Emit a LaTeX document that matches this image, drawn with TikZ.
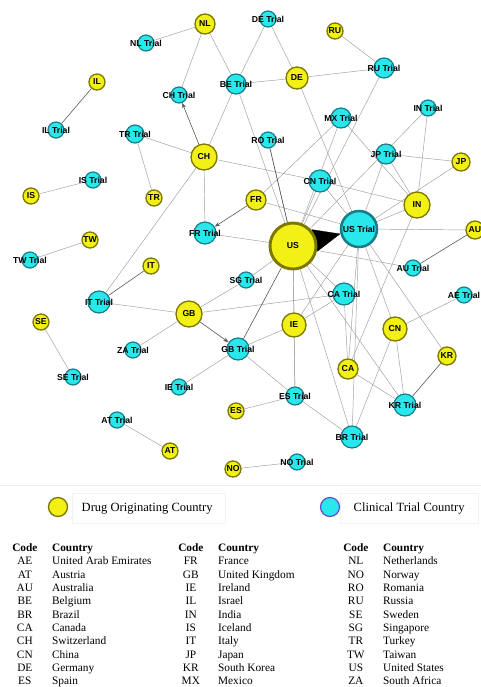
\documentclass[tikz,border=0pt]{standalone}
\usepackage{fontspec}
\setmainfont{Liberation Serif}
\newfontfamily\labelfont{Liberation Sans}
\usetikzlibrary{arrows.meta,backgrounds}
\definecolor{origfill}{RGB}{242,240,20}
\definecolor{origline}{RGB}{125,120,0}
\definecolor{trialfill}{RGB}{40,232,235}
\definecolor{trialline}{RGB}{25,125,135}
\definecolor{legline}{RGB}{95,80,200}
\tikzset{
  orig/.style={circle, draw=origline, fill=origfill, line width=1pt, inner sep=0pt, minimum size=1.5pt*#1},
  trial/.style={circle, draw=trialline, fill=trialfill, line width=0.9pt, inner sep=0pt, minimum size=1.5pt*#1},
  every label/.style={font=\labelfont\bfseries\fontsize{6.5}{6.5}\selectfont, inner sep=0pt},
  edge/.style={gray!75, line width=0.35pt},
  darkedge/.style={black!65, line width=0.45pt},
}
\begin{document}
\begin{tikzpicture}[x=0.75pt, y=-0.75pt, >={Stealth[length=4pt,width=3pt]}]
\useasboundingbox (0,0) rectangle (481,687);
% drug originating countries
\node[orig=10, label=center:NL] (NL) at (205,24) {};
\node[orig=8, label=center:IL] (IL) at (97,82) {};
\node[orig=8, label=center:RU] (RU) at (335,31) {};
\node[orig=11, label=center:DE] (DE) at (297,78) {};
\node[orig=13, label=center:CH] (CH) at (204,157) {};
\node[orig=9, label=center:JP] (JP) at (461,162) {};
\node[orig=13, label=center:IN] (IN) at (417,205) {};
\node[orig=8, label=center:IS] (IS) at (31,196) {};
\node[orig=8, label=center:TR] (TR) at (154,198) {};
\node[orig=10, label=center:FR] (FR) at (256,200) {};
\node[orig=23, line width=2.2pt, label=center:US] (US) at (293,246) {};
\node[orig=9, label=center:AU] (AU) at (475,230) {};
\node[orig=8, label=center:TW] (TW) at (90,240) {};
\node[orig=8, label=center:IT] (IT) at (151,266) {};
\node[orig=13, label=center:GB] (GB) at (189,314) {};
\node[orig=12, label=center:IE] (IE) at (294,325) {};
\node[orig=12, label=center:CN] (CN) at (395,329) {};
\node[orig=8, label=center:SE] (SE) at (41,322) {};
\node[orig=9, label=center:KR] (KR) at (447,356) {};
\node[orig=10, label=center:CA] (CA) at (348,369) {};
\node[orig=8, label=center:ES] (ES) at (236,411) {};
\node[orig=8, label=center:AT] (AT) at (170,451) {};
\node[orig=8, label=center:NO] (NO) at (233,469) {};
% clinical trial countries
\node[trial=8, label=center:{NL Trial}] (NLt) at (146,43) {};
\node[trial=8, label=center:{DE Trial}] (DEt) at (268,19) {};
\node[trial=10, label=center:{BE Trial}] (BEt) at (236,84) {};
\node[trial=8, label=center:{CH Trial}] (CHt) at (179,95) {};
\node[trial=10, label=center:{RU Trial}] (RUt) at (384,68) {};
\node[trial=8, label=center:{IL Trial}] (ILt) at (56,130) {};
\node[trial=8, label=center:{RO Trial}] (ROt) at (268,140) {};
\node[trial=10, label=center:{MX Trial}] (MXt) at (341,118) {};
\node[trial=8, label=center:{IN Trial}] (INt) at (428,108) {};
\node[trial=10, label=center:{JP Trial}] (JPt) at (386,154) {};
\node[trial=9, label=center:{TR Trial}] (TRt) at (135,134) {};
\node[trial=8, label=center:{IS Trial}] (ISt) at (93,180) {};
\node[trial=11, label=center:{CN Trial}] (CNt) at (320,181) {};
\node[trial=18, line width=1.9pt, label=center:{US Trial}] (USt) at (359,229) {};
\node[trial=11, label=center:{FR Trial}] (FRt) at (205,233) {};
\node[trial=8, label=center:{SG Trial}] (SGt) at (246,280) {};
\node[trial=8, label=center:{TW Trial}] (TWt) at (30,260) {};
\node[trial=8, label=center:{AU Trial}] (AUt) at (413,268) {};
\node[trial=11, label=center:{CA Trial}] (CAt) at (344,294) {};
\node[trial=8, label=center:{AE Trial}] (AEt) at (464,295) {};
\node[trial=11, label=center:{IT Trial}] (ITt) at (99,302) {};
\node[trial=8, label=center:{ZA Trial}] (ZAt) at (133,350) {};
\node[trial=11, label=center:{GB Trial}] (GBt) at (238,349) {};
\node[trial=8, label=center:{SE Trial}] (SEt) at (73,377) {};
\node[trial=8, label=center:{IE Trial}] (IEt) at (179,387) {};
\node[trial=9, label=center:{ES Trial}] (ESt) at (295,396) {};
\node[trial=11, label=center:{KR Trial}] (KRt) at (405,405) {};
\node[trial=11, label=center:{BR Trial}] (BRt) at (352,437) {};
\node[trial=8, label=center:{AT Trial}] (ATt) at (117,420) {};
\node[trial=8, label=center:{NO Trial}] (NOt) at (297,462) {};
% links
\begin{scope}[on background layer]
\foreach \a/\b in {NL/NLt, NL/CHt, NL/BEt, DEt/BEt, DEt/DE, DE/BEt, DE/RUt, DE/USt,
  RU/RUt, RUt/US, BEt/CH, BEt/US, TRt/CH, TRt/TR, CH/CNt, CH/ITt, CH/FRt,
  IS/ISt, TW/TWt, SE/SEt, AT/ATt, NO/NOt, ES/ESt, ROt/US, MXt/FR, MXt/US, MXt/IN,
  INt/IN, INt/US, JPt/JP, JPt/IN, JP/USt, JPt/USt, CNt/IN, CNt/US, CNt/USt,
  FR/USt, FRt/US, US/SGt, GB/SGt, GB/CAt, GB/ITt, GB/ZAt, IE/GBt, GBt/IEt, GBt/ESt,
  US/IE, US/ESt, IE/ESt, IE/CAt, USt/IE, US/CAt, CAt/CA, US/AUt, AU/USt, USt/IN,
  USt/CA, USt/CN, USt/KR, USt/BRt, US/BRt, US/KRt, CA/KRt, CN/KRt, CN/BRt, CN/AEt,
  ESt/BRt, IN/CA}
  \draw[edge] (\a) -- (\b);
\foreach \a/\b in {IL/ILt, IT/ITt, US/GBt, AU/AUt, KR/KRt, US/ROt}
  \draw[darkedge] (\a) -- (\b);
\foreach \a/\b in {CH/CHt, GB/GBt, FR/FRt}
  \draw[darkedge,->] (\a) -- (\b);
\draw[line width=0.2pt, -{Triangle[length=20pt,width=17pt]}] (US) -- (USt);
\end{scope}
% legend
\draw[gray!15] (0,485) -- (481,485);
\draw[gray!10] (72,493) rectangle (225,523);
\draw[gray!10] (340,493) rectangle (478,523);
\node[orig=9.5] (legorig) at (58,507) {};
\node[anchor=base west, font=\fontsize{9.4}{11}\selectfont] (legorigtxt) at (77,511) {Drug Originating Country};
\node[trial=9.5, draw=legline] (legtrial) at (330,507) {};
\node[anchor=base west, font=\fontsize{9.4}{11}\selectfont] (legtrialtxt) at (349,511) {Clinical Trial Country};
% code table
\tikzset{codetab/.style={anchor=north west, inner sep=0pt, font=\fontsize{8.5}{10}\selectfont}}
\node[codetab] (tabA) at (12,542) {\begin{tabular}{@{}c@{\hspace{11pt}}l@{}}
\textbf{Code} & \textbf{Country}\\
AE & United Arab Emirates\\ AT & Austria\\ AU & Australia\\ BE & Belgium\\ BR & Brazil\\
CA & Canada\\ CH & Switzerland\\ CN & China\\ DE & Germany\\ ES & Spain
\end{tabular}};
\node[codetab] (tabB) at (178,542) {\begin{tabular}{@{}c@{\hspace{11pt}}l@{}}
\textbf{Code} & \textbf{Country}\\
FR & France\\ GB & United Kingdom\\ IE & Ireland\\ IL & Israel\\ IN & India\\
IS & Iceland\\ IT & Italy\\ JP & Japan\\ KR & South Korea\\ MX & Mexico
\end{tabular}};
\node[codetab] (tabC) at (343,542) {\begin{tabular}{@{}c@{\hspace{11pt}}l@{}}
\textbf{Code} & \textbf{Country}\\
NL & Netherlands\\ NO & Norway\\ RO & Romania\\ RU & Russia\\ SE & Sweden\\
SG & Singapore\\ TR & Turkey\\ TW & Taiwan\\ US & United States\\ ZA & South Africa
\end{tabular}};
\end{tikzpicture}
\end{document}
